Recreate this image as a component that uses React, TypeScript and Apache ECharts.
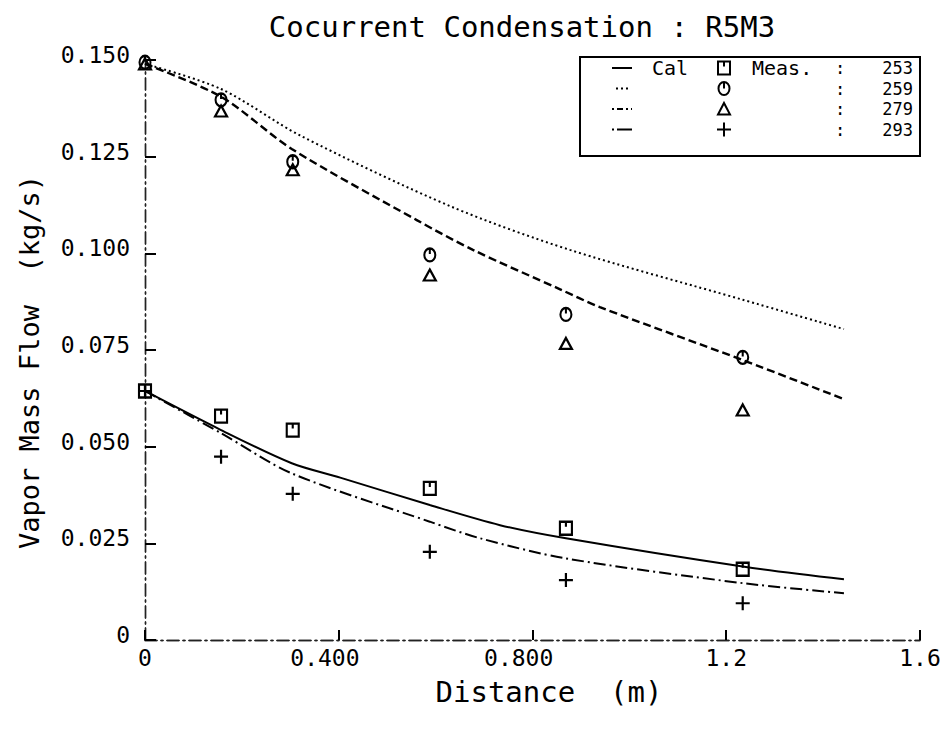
import React, { useEffect, useRef } from "react";
import * as echarts from "echarts";

// ---- data ----
const titleText = "Cocurrent Condensation : R5M3";
const xAxisName = "Distance  (m)";
const yAxisName = "Vapor Mass Flow  (kg/s)";
const xTickLabels = ["0", "0.400", "0.800", "1.2", "1.6"];
const yTickLabels = ["0", "0.025", "0.050", "0.075", "0.100", "0.125", "0.150"];

const runIds = ["253", "259", "279", "293"];

// measured points
const measX = [0, 0.157, 0.305, 0.588, 0.869, 1.234];
const meas253 = [0.0644, 0.0579, 0.0543, 0.0392, 0.0289, 0.0183];
const meas259 = [0.1494, 0.1397, 0.1237, 0.0996, 0.0842, 0.0731];
const meas279 = [0.149, 0.1368, 0.1216, 0.0944, 0.0767, 0.0595];
const meas293 = [0.0644, 0.0474, 0.0378, 0.0228, 0.0155, 0.0095];

// calculated curves
const cal253X = [0, 0.157, 0.303, 0.403, 0.588, 0.733, 0.869, 1.234, 1.443];
const cal253Y = [0.0644, 0.0543, 0.0457, 0.042, 0.0349, 0.0297, 0.0263, 0.019, 0.0157];
const cal259X = [0, 0.157, 0.32, 0.63, 0.877, 1.234, 1.443];
const cal259Y = [0.149, 0.1425, 0.1305, 0.1122, 0.1009, 0.088, 0.0804];
const cal279X = [0, 0.157, 0.303, 0.561, 0.677, 0.857, 0.939, 1.234, 1.443];
const cal279Y = [0.149, 0.1405, 0.127, 0.1086, 0.1009, 0.0907, 0.0861, 0.0724, 0.0623];
const cal293X = [0, 0.157, 0.303, 0.588, 0.692, 0.869, 1.234, 1.443];
const cal293Y = [0.0644, 0.0535, 0.0431, 0.0306, 0.0263, 0.0211, 0.0147, 0.0121];

const FONT = '"DejaVu Sans Mono", "Liberation Mono", monospace';
const INK = "#000";
const NBSP2 = "\u00a0\u00a0";

const pairs = (xs: number[], ys: number[]) => xs.map((x, i) => [x, ys[i]]);

const SYM_SQUARE = "path://M0,0 L12,0 L12,13 L0,13 Z M6,0 L6,5";
const SYM_CIRCLE = "path://M6,0 A6,7 0 1 1 6,14 A6,7 0 1 1 6,0 Z M6,0 L6,6";
const SYM_TRI = "path://M6,0 L12,11 L0,11 Z";
const SYM_PLUS = "path://M7,0 L7,14 M0,7 L14,7";

const DASH_DOT = [12, 4, 2, 4];
const DOTTED = [2, 3];
const DASHED = [8, 4];

export default function App() {
  const ref = useRef<HTMLDivElement>(null);

  useEffect(() => {
    document.body.style.margin = "0";
    if (!ref.current) return;
    const chart = echarts.init(ref.current, undefined, { renderer: "svg" });

    const lineSeries = (name: string, xs: number[], ys: number[], type: any, width: number) => ({
      name,
      type: "line",
      data: pairs(xs, ys),
      smooth: 0.3,
      showSymbol: false,
      symbol: "none",
      z: 2,
      lineStyle: { color: INK, width, type },
    });
    const scatterSeries = (name: string, ys: number[], symbol: string, size: number[]) => ({
      name,
      type: "scatter",
      data: pairs(measX, ys),
      symbol,
      symbolSize: size,
      z: 3,
      itemStyle: { color: "transparent", borderColor: INK, borderWidth: 2.2, opacity: 1 },
    });

    // legend rows
    const lx0 = 612, lx1 = 632;
    const rowH = 20.5;
    const rowY = runIds.map((_, i) => 68 + i * rowH);
    const mx = 724;
    const legendGraphics: any[] = [
      {
        type: "rect",
        shape: { x: 580, y: 57, width: 340, height: 99 },
        style: { fill: "#fff", stroke: INK, lineWidth: 2 },
        z: 10,
      },
      { type: "line", shape: { x1: lx0, y1: rowY[0], x2: lx1, y2: rowY[0] }, style: { stroke: INK, lineWidth: 2 }, z: 11 },
      { type: "line", shape: { x1: lx0 + 4, y1: rowY[1], x2: lx1 - 4, y2: rowY[1] }, style: { stroke: INK, lineWidth: 2, lineDash: DOTTED }, z: 11 },
      { type: "line", shape: { x1: lx0, y1: rowY[2], x2: lx1, y2: rowY[2] }, style: { stroke: INK, lineWidth: 2, lineDash: [2, 3, 6, 3] }, z: 11 },
      { type: "line", shape: { x1: lx0, y1: rowY[3], x2: lx1, y2: rowY[3] }, style: { stroke: INK, lineWidth: 2, lineDash: [2, 3, 15, 0] }, z: 11 },
      {
        type: "text", x: 652, y: rowY[0], z: 11,
        style: { text: "Cal", fontFamily: FONT, fontSize: 20, fill: INK, align: "left", verticalAlign: "middle" },
      },
      {
        type: "text", x: 752, y: rowY[0], z: 11,
        style: { text: "Meas.", fontFamily: FONT, fontSize: 20, fill: INK, align: "left", verticalAlign: "middle" },
      },
      // markers
      { type: "rect", shape: { x: mx - 6, y: rowY[0] - 6.5, width: 12, height: 13 }, style: { fill: "none", stroke: INK, lineWidth: 2 }, z: 11 },
      { type: "line", shape: { x1: mx, y1: rowY[0] - 6.5, x2: mx, y2: rowY[0] - 1.5 }, style: { stroke: INK, lineWidth: 2 }, z: 11 },
      { type: "ellipse", shape: { cx: mx, cy: rowY[1], rx: 5.5, ry: 6.5 }, style: { fill: "none", stroke: INK, lineWidth: 2 }, z: 11 },
      { type: "line", shape: { x1: mx, y1: rowY[1] - 6.5, x2: mx, y2: rowY[1] }, style: { stroke: INK, lineWidth: 2 }, z: 11 },
      { type: "polygon", shape: { points: [[mx, rowY[2] - 6], [mx + 6, rowY[2] + 5.5], [mx - 6, rowY[2] + 5.5]] }, style: { fill: "none", stroke: INK, lineWidth: 2 }, z: 11 },
      { type: "line", shape: { x1: mx, y1: rowY[3] - 7, x2: mx, y2: rowY[3] + 7 }, style: { stroke: INK, lineWidth: 2 }, z: 11 },
      { type: "line", shape: { x1: mx - 7, y1: rowY[3], x2: mx + 7, y2: rowY[3] }, style: { stroke: INK, lineWidth: 2 }, z: 11 },
    ];
    runIds.forEach((id, i) => {
      legendGraphics.push({
        type: "text", x: 840, y: rowY[i], z: 11,
        style: { text: ":", fontFamily: FONT, fontSize: 17, fill: INK, align: "center", verticalAlign: "middle" },
      });
      legendGraphics.push({
        type: "text", x: 913, y: rowY[i], z: 11,
        style: { text: id, fontFamily: FONT, fontSize: 17, fill: INK, align: "right", verticalAlign: "middle" },
      });
    });

    const frameLine = { show: true, lineStyle: { color: "#222", width: 1.4, type: DASH_DOT } };

    chart.setOption({
      animation: false,
      backgroundColor: "#fff",
      textStyle: { fontFamily: FONT, color: INK },
      grid: { left: 145, right: 26, top: 60, bottom: 89, containLabel: false, outerBoundsMode: "none" },
      xAxis: [
        {
          type: "value", min: 0, max: 1.6, interval: 0.4, position: "bottom",
          axisLine: frameLine,
          axisTick: { show: true, inside: true, length: 10, lineStyle: { color: INK, width: 2 } },
          axisLabel: {
            margin: 6, fontFamily: FONT, fontSize: 23, color: INK,
            formatter: (v: number) => {
              const t = xTickLabels[Math.round(v / 0.4)] ?? "";
              return t.length > 3 ? t + NBSP2 : t;
            },
          },
          splitLine: { show: false },
        },
        {
          type: "value", min: 0, max: 1.6, position: "top",
          axisLine: frameLine, axisTick: { show: false }, axisLabel: { show: false }, splitLine: { show: false },
        },
      ],
      yAxis: [
        {
          type: "value", min: 0, max: 0.15, interval: 0.025, position: "left",
          axisLine: frameLine,
          axisTick: { show: true, inside: true, length: 11, lineStyle: { color: INK, width: 2 } },
          axisLabel: {
            margin: 15, fontFamily: FONT, fontSize: 23, color: INK,
            verticalAlign: "bottom", lineHeight: 10,
            formatter: (v: number) => yTickLabels[Math.round(v / 0.025)] ?? "",
          },
          splitLine: { show: false },
        },
        {
          type: "value", min: 0, max: 0.15, position: "right",
          axisLine: frameLine, axisTick: { show: false }, axisLabel: { show: false }, splitLine: { show: false },
        },
      ],
      series: [
        lineSeries("Cal 253", cal253X, cal253Y, "solid", 2),
        lineSeries("Cal 259", cal259X, cal259Y, DOTTED, 2),
        lineSeries("Cal 279", cal279X, cal279Y, DASHED, 2.4),
        lineSeries("Cal 293", cal293X, cal293Y, DASH_DOT, 2),
        scatterSeries("Meas 253", meas253, SYM_SQUARE, [12, 13]),
        scatterSeries("Meas 259", meas259, SYM_CIRCLE, [11, 13]),
        scatterSeries("Meas 279", meas279, SYM_TRI, [12, 11]),
        scatterSeries("Meas 293", meas293, SYM_PLUS, [14, 14]),
      ],
      graphic: [
        {
          type: "text", x: 522, y: 27,
          style: { text: titleText, fontFamily: FONT, fontSize: 29, fill: INK, align: "center", verticalAlign: "middle" },
        },
        {
          type: "text", x: 549, y: 692,
          style: { text: xAxisName, fontFamily: FONT, fontSize: 29, fill: INK, align: "center", verticalAlign: "middle" },
        },
        {
          type: "text", x: 29, y: 362, rotation: Math.PI / 2,
          style: { text: yAxisName, fontFamily: FONT, fontSize: 27, fill: INK, align: "center", verticalAlign: "middle" },
        },
        ...legendGraphics,
      ],
    });

    return () => chart.dispose();
  }, []);

  return <div ref={ref} style={{ width: 946, height: 729 }} />;
}
